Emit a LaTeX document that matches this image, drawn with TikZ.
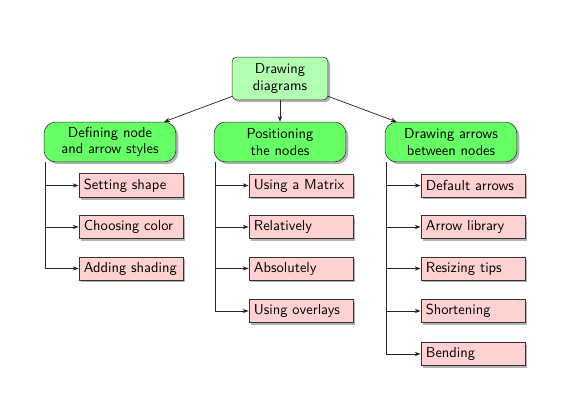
\documentclass[tikz,border=0pt]{standalone}
\usetikzlibrary{shadows,arrows.meta}
\begin{document}
\begin{tikzpicture}[x=0.69pt,y=-0.69pt,
  every node/.style={font=\sffamily\fontsize{10}{11.5}\selectfont},
  rootbox/.style={draw=black!80, fill=green!30, rounded corners=3pt, minimum width=66pt, minimum height=29.5pt, align=center, inner sep=2pt, drop shadow={opacity=0.6, shadow xshift=1.6pt, shadow yshift=-1.6pt}},
  levelbox/.style={draw=black!80, fill=green!60, rounded corners=8pt, minimum width=91pt, minimum height=27.5pt, align=center, inner sep=2pt, drop shadow={opacity=0.6, shadow xshift=1.6pt, shadow yshift=-1.6pt}},
  leafbox/.style={draw=black!80, fill=red!18, minimum height=16pt, text width=65pt, align=left, inner sep=3.5pt, drop shadow={opacity=0.6, shadow xshift=1.6pt, shadow yshift=-1.6pt}},
  conn/.style={draw=black!85, line width=0.5pt, -{Stealth[length=4pt,width=3pt]}}
]
\useasboundingbox (0,0) rectangle (561,402);
\node[rootbox] (root) at (280,78.5) {Drawing\\diagrams};
\node[levelbox] (l1) at (110,142) {Defining node\\and arrow styles};
\node[levelbox] (l2) at (280,142) {Positioning\\the nodes};
\node[levelbox] (l3) at (451,142) {Drawing arrows\\between nodes};
\draw[conn] (root) -- (l1);
\draw[conn] (root) -- (l2);
\draw[conn] (root) -- (l3);
% left children
\node[leafbox] (a1) at (131,185.5) {Setting shape};
\node[leafbox] (a2) at (131,227) {Choosing color};
\node[leafbox] (a3) at (131,268.5) {Adding shading};
% middle children
\node[leafbox] (b1) at (301,185.5) {Using a Matrix};
\node[leafbox] (b2) at (301,227) {Relatively};
\node[leafbox] (b3) at (301,268.5) {Absolutely};
\node[leafbox] (b4) at (301,311) {Using overlays};
% right children
\node[leafbox] (c1) at (473,185.5) {Default arrows};
\node[leafbox] (c2) at (473,227) {Arrow library};
\node[leafbox] (c3) at (473,268.5) {Resizing tips};
\node[leafbox] (c4) at (473,311) {Shortening};
\node[leafbox] (c5) at (473,354) {Bending};
\foreach \p/\c in {l1/a1,l1/a2,l1/a3,l2/b1,l2/b2,l2/b3,l2/b4,l3/c1,l3/c2,l3/c3,l3/c4,l3/c5}{
  \draw[conn] ([xshift=1pt]\p.south west) |- (\c.west);
}
\end{tikzpicture}
\end{document}
